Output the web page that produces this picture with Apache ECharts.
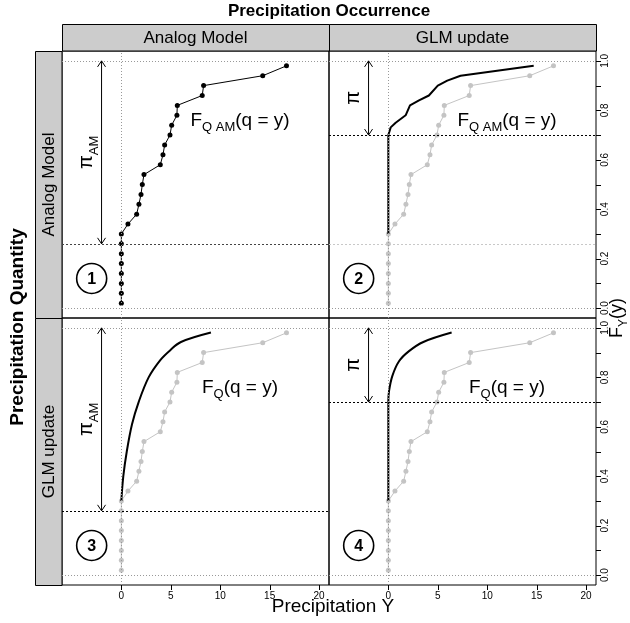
<!DOCTYPE html>
<html>
<head>
<meta charset="utf-8">
<script src="https://cdn.jsdelivr.net/npm/echarts@6/dist/echarts.min.js"></script>
<style>
  html,body{margin:0;padding:0;background:#fff;}
  #main{width:630px;height:623px;}
</style>
</head>
<body>
<div id="main"></div>
<script>
  // 模拟模型(Analog Model)的降水经验分布
  var amX=[0,0,0,0,0,0,0,0,0.67,1.55,1.78,1.99,2.12,2.29,3.94,4.21,4.38,4.92,5.09,5.62,5.66,8.18,8.32,14.3,16.7];
  var amY=[0.02,0.06,0.10,0.14,0.18,0.22,0.26,0.30,0.34,0.38,0.42,0.46,0.50,0.54,0.58,0.62,0.66,0.70,0.74,0.78,0.82,0.86,0.90,0.94,0.98];
  // GLM 更新后的曲线
  var glm2X=[0,0,0.24,0.74,1.75,2.19,3.1,4.1,5.0,5.96,7.3,14.7];
  var glm2Y=[0.30,0.70,0.731,0.75,0.78,0.82,0.84,0.86,0.90,0.92,0.94,0.98];
  var glm3X=[0,0.2,0.55,1.08,1.75,2.76,3.94,4.95,6.03,9.06];
  var glm3Y=[0.30,0.40,0.50,0.61,0.70,0.80,0.87,0.91,0.943,0.981];
  var glm4X=[0,0,0.07,0.4,1.08,2.09,3.54,6.4];
  var glm4Y=[0.30,0.70,0.744,0.805,0.865,0.906,0.943,0.981];
  // 刻度
  var xTicks=[0,5,10,15,20];
  var yLabels=[0,0.2,0.4,0.6,0.8,1.0];
  var yTicks=[0,0.1,0.2,0.3,0.4,0.5,0.6,0.7,0.8,0.9,1.0];
  // 参考线
  var piAM=0.26;
  var piGLM=0.70;
  var colNames=["Analog Model","GLM update"];
  var rowNames=["Analog Model","GLM update"];
  var fSubs=["Q AM","Q AM","Q","Q"];
  var piSubs=["AM","","AM",""];
  var circleNums=["1","2","3","4"];

  var FONT='"Liberation Sans", Arial, sans-serif';
  var panelLeft=[62,329];
  var panelTop=[51,318];
  var panelSize=267;
  var xMin=-6,xMax=21,yMin=-0.04,yMax=1.04;

  var pairs=function(xs,ys){
    return xs.map(function(x,i){return [x,ys[i]];});
  };

  var grids=[],xAxes=[],yAxes=[],series=[];
  for(var k=0;k<4;k++){
    var row=Math.floor(k/2),col=k%2;
    grids.push({left:panelLeft[col],top:panelTop[row],width:panelSize,height:panelSize,
      show:true,borderColor:'#000',borderWidth:1,backgroundColor:'transparent'});
    xAxes.push({gridIndex:k,type:'value',min:xMin,max:xMax,show:row===1,position:'bottom',
      axisLine:{show:false,onZero:false},splitLine:{show:false},axisTick:{show:false},
      axisLabel:{customValues:xTicks,fontSize:10,color:'#000',margin:6,fontFamily:FONT}});
    yAxes.push({gridIndex:k,type:'value',min:yMin,max:yMax,position:'right',show:col===1,
      axisLine:{show:false,onZero:false},splitLine:{show:false},axisTick:{show:false},
      axisLabel:{customValues:yLabels,rotate:90,fontSize:10,color:'#000',margin:4,fontFamily:FONT,
        formatter:function(v){return v.toFixed(1);}}});
  }

  var refLines=function(k){
    var dot={color:'#999',type:[1,2],width:1};
    var lines=[{xAxis:0,lineStyle:dot},{yAxis:0,lineStyle:dot},{yAxis:1,lineStyle:dot}];
    if(k===0) lines.push({yAxis:piAM,lineStyle:{color:'#444',type:[2,2],width:1}});
    if(k===1){
      lines.push({yAxis:piAM,lineStyle:{color:'#c8c8c8',type:[2,2],width:1}});
      lines.push({yAxis:piGLM,lineStyle:{color:'#000',type:[2,2],width:1}});
    }
    if(k===2) lines.push({yAxis:piAM,lineStyle:{color:'#000',type:[2,2],width:1}});
    if(k===3) lines.push({yAxis:piGLM,lineStyle:{color:'#000',type:[2,2],width:1}});
    return {silent:true,symbol:['none','none'],label:{show:false},animation:false,data:lines};
  };

  var glmData=[null,pairs(glm2X,glm2Y),pairs(glm3X,glm3Y),pairs(glm4X,glm4Y)];

  for(var k=0;k<4;k++){
    var isFirst=k===0;
    series.push({type:'line',xAxisIndex:k,yAxisIndex:k,data:pairs(amX,amY),
      symbol:'circle',symbolSize:5,
      itemStyle:{color:isFirst?'#000':'#c4c4c4'},
      lineStyle:{color:isFirst?'#000':'#c4c4c4',width:1},
      z:3,markLine:refLines(k)});
    if(glmData[k]){
      series.push({type:'line',xAxisIndex:k,yAxisIndex:k,data:glmData[k],
        symbol:'none',smooth:k===1?false:0.35,
        lineStyle:{color:'#000',width:2},z:4});
    }
  }

  // 注释: 箭头、π、圆圈编号、F 标签
  var makeAnnot=function(k){
    var low=(k%2===0)?piAM:piGLM;
    return {type:'custom',xAxisIndex:k,yAxisIndex:k,silent:true,z:6,data:[[0,0]],
      renderItem:function(params,api){
        var top=api.coord([-2,1]),bot=api.coord([-2,low]);
        var lab=api.coord([-3.3,(1+low)/2]);
        var circ=api.coord([-3,0.12]);
        var fp=api.coord([12,0.75]);
        var piText=piSubs[k]?'{p|π}{s|'+piSubs[k]+'}':'{p|π}';
        return {type:'group',children:[
          {type:'line',shape:{x1:top[0],y1:top[1],x2:bot[0],y2:bot[1]},style:{stroke:'#000',lineWidth:1}},
          {type:'polyline',shape:{points:[[top[0]-4,top[1]+6],[top[0],top[1]],[top[0]+4,top[1]+6]]},style:{stroke:'#000',fill:null,lineWidth:1}},
          {type:'polyline',shape:{points:[[bot[0]-4,bot[1]-6],[bot[0],bot[1]],[bot[0]+4,bot[1]-6]]},style:{stroke:'#000',fill:null,lineWidth:1}},
          {type:'text',x:lab[0],y:lab[1],rotation:Math.PI/2,style:{text:piText,align:'center',verticalAlign:'middle',fill:'#000',
            rich:{p:{fontSize:20,fontFamily:FONT,verticalAlign:'bottom',padding:[0,0,4,0]},s:{fontSize:13,fontFamily:FONT,verticalAlign:'bottom'}}}},
          {type:'circle',shape:{cx:circ[0],cy:circ[1],r:15},style:{fill:'#fff',stroke:'#000',lineWidth:1.6}},
          {type:'text',x:circ[0],y:circ[1]+1,style:{text:circleNums[k],fontSize:16,fontWeight:'bold',fontFamily:FONT,align:'center',verticalAlign:'middle',fill:'#000'}},
          {type:'text',x:fp[0],y:fp[1],style:{text:'{f|F}{s|'+fSubs[k]+'}{f|(q = y)}',align:'center',verticalAlign:'middle',fill:'#000',
            rich:{f:{fontSize:19,fontFamily:FONT,verticalAlign:'bottom',padding:[0,0,4,0]},s:{fontSize:13,fontFamily:FONT,verticalAlign:'bottom'}}}}
        ]};
      }};
  };
  for(var k=0;k<4;k++){ series.push(makeAnnot(k)); }

  // 条带与标题
  var graphics=[];
  for(var c=0;c<2;c++){
    graphics.push({type:'rect',shape:{x:panelLeft[c]+0.5,y:24.5,width:panelSize,height:26.5},style:{fill:'#cccccc',stroke:'#000',lineWidth:1},z:1});
    graphics.push({type:'text',x:panelLeft[c]+panelSize/2,y:38,style:{text:colNames[c],fontSize:17,fontFamily:FONT,align:'center',verticalAlign:'middle',fill:'#000'},z:2});
  }
  for(var r=0;r<2;r++){
    graphics.push({type:'rect',shape:{x:35.5,y:panelTop[r]+0.5,width:26.5,height:panelSize},style:{fill:'#cccccc',stroke:'#000',lineWidth:1},z:1});
    graphics.push({type:'text',x:49,y:panelTop[r]+panelSize/2,rotation:Math.PI/2,style:{text:rowNames[r],fontSize:17,fontFamily:FONT,align:'center',verticalAlign:'middle',fill:'#000'},z:2});
  }
  graphics.push({type:'text',x:329,y:11,style:{text:'Precipitation Occurrence',fontSize:17,fontWeight:'bold',fontFamily:FONT,align:'center',verticalAlign:'middle',fill:'#000'}});
  graphics.push({type:'text',x:18,y:327,rotation:Math.PI/2,style:{text:'Precipitation Quantity',fontSize:19,fontWeight:'bold',fontFamily:FONT,align:'center',verticalAlign:'middle',fill:'#000'}});
  graphics.push({type:'text',x:333,y:607,style:{text:'Precipitation Y',fontSize:19,fontFamily:FONT,align:'center',verticalAlign:'middle',fill:'#000'}});
  graphics.push({type:'text',x:619,y:318,rotation:Math.PI/2,style:{text:'{f|F}{s|Y}{f|(y)}',align:'center',verticalAlign:'middle',fill:'#000',
    rich:{f:{fontSize:18,fontFamily:FONT,verticalAlign:'bottom',padding:[0,0,4,0]},s:{fontSize:12,fontFamily:FONT,verticalAlign:'bottom'}}}});

  var chart=echarts.init(document.getElementById('main'),null,{renderer:'canvas'});
  chart.setOption({
    animation:false,
    backgroundColor:'#fff',
    grid:grids,
    xAxis:xAxes,
    yAxis:yAxes,
    series:series,
    graphic:graphics
  });

  // 外侧刻度线: 用坐标换算得到位置
  var ticks=[];
  for(var k=0;k<4;k++){
    var row=Math.floor(k/2),col=k%2;
    if(col===1){
      yTicks.forEach(function(v){
        var p=chart.convertToPixel({xAxisIndex:k,yAxisIndex:k},[xMax,v]);
        ticks.push({type:'rect',shape:{x:Math.round(p[0]),y:Math.round(p[1]),width:5,height:1},style:{fill:'#000'},z:50});
      });
    }
    if(row===1){
      xTicks.forEach(function(v){
        var p=chart.convertToPixel({xAxisIndex:k,yAxisIndex:k},[v,yMin]);
        ticks.push({type:'rect',shape:{x:Math.round(p[0]),y:Math.round(p[1]),width:1,height:5},style:{fill:'#000'},z:50});
      });
    }
  }
  chart.setOption({graphic:graphics.concat(ticks)});
</script>
</body>
</html>
